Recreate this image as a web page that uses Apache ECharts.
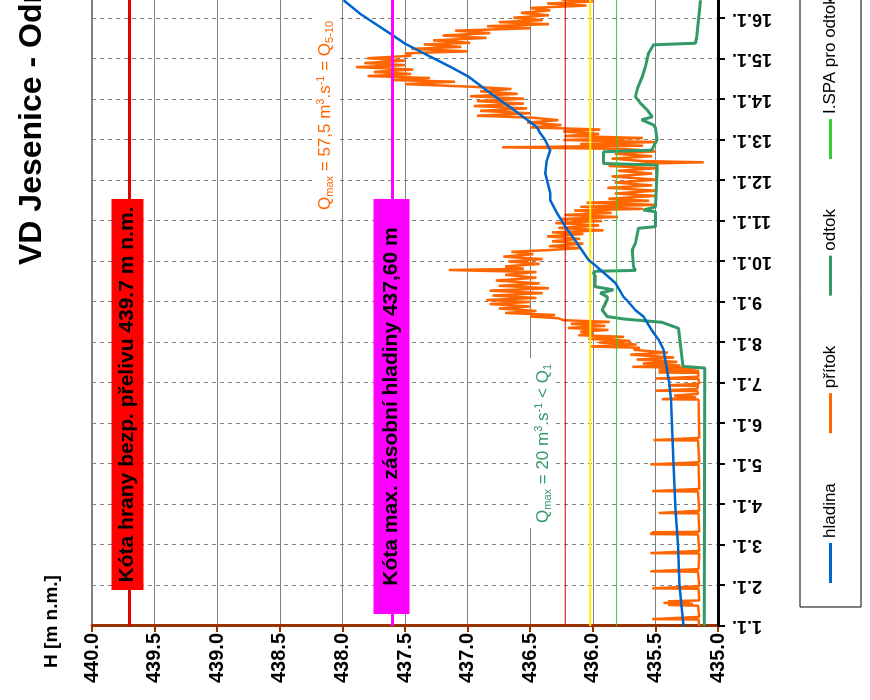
<!DOCTYPE html>
<html>
<head>
<meta charset="utf-8">
<script src="https://cdn.jsdelivr.net/npm/echarts@6/dist/echarts.min.js"></script>
<style>
html,body{margin:0;padding:0;width:870px;height:700px;overflow:hidden;background:#fff;}
#chart{position:absolute;left:0;top:0;width:800px;height:870px;transform-origin:0 0;transform:translateY(700px) rotate(-90deg);}
</style>
</head>
<body>
<div id="chart"></div>
<script>
const FONT = "'Liberation Sans', Arial, sans-serif";

// Date axis: day of January 2011 (1 = 1.1.)
const dayMin = 1, dayMax = 17;
// H axis [m n.m.]
const hMin = 435, hMax = 440, hStep = 0.5;
// Q axis (hidden) [m3/s]
const qMin = 0, qMax = 100;

// reference levels
const kotaPrelivu = 439.7;   // Kóta hrany bezp. přelivu
const kotaZasobni = 437.6;   // Kóta max. zásobní hladiny
const spa1 = 16.2, spa2 = 20.4, spa3 = 24.4; // SPA pro odtok [m3/s]

const legendNames = ['hladina', 'přítok', 'odtok', 'I.SPA pro odtok'];

// hladina [day, H]
const hladina = [
[1.0,435.275],[2.0,435.307],[3.0,435.32],[3.87,435.34],[5.0,435.355],[6.59,435.376],[7.0,435.39],
[7.82,435.435],[8.07,435.475],[8.31,435.53],[8.64,435.595],[8.8,435.66],[9.05,435.73],[9.13,435.755],
[9.47,435.82],[9.87,435.967],[10.04,436.034],[10.46,436.127],[10.86,436.22],[11.2,436.287],
[11.52,436.34],[11.69,436.34],[12.18,436.38],[12.5,436.367],[12.75,436.34],[13.0,436.38],
[13.17,436.42],[13.32,436.447],[13.81,436.66],[13.98,436.74],[14.23,436.85],[14.56,436.99],
[14.81,437.14],[15.14,437.35],[15.38,437.5],[15.63,437.62],[16.12,437.86],[16.45,437.99]
];

// přítok [day, Q]
const pritok = [
[1.00,3.0],[1.16,3.1],[1.17,10.5],[1.215,10.2],[1.225,3.0],
[1.50,3.2],[1.52,8.0],[1.55,4.0],[1.57,8.7],[1.59,4.5],[1.61,8.0],[1.63,3.0],
[1.92,3.1],[1.93,10.5],[1.975,10.2],[1.985,3.0],
[2.34,3.2],[2.35,10.8],[2.395,10.5],[2.405,3.1],
[2.79,3.0],[2.80,10.8],[2.845,10.5],[2.855,3.0],
[3.26,3.2],[3.27,10.8],[3.315,10.4],[3.325,3.0],
[3.78,3.1],[3.79,9.5],[3.835,9.2],[3.845,3.0],
[4.32,3.2],[4.33,10.5],[4.375,10.2],[4.385,3.0],
[4.98,3.1],[4.99,10.8],[5.035,10.5],[5.045,3.0],
[5.58,3.2],[5.59,10.3],[5.635,10.0],[5.645,3.0],
[6.59,3.1],[6.60,9.0],[6.635,8.8],[6.645,3.5],[6.68,3.5],[6.69,7.0],[6.72,6.8],[6.73,3.2],
[6.80,3.3],[6.81,10.0],[6.845,9.8],[6.855,3.3],[6.93,3.2],[6.94,8.0],[6.975,7.8],[6.985,3.0],
[7.10,3.1],[7.11,10.0],[7.145,9.8],[7.155,3.2],[7.25,3.1],[7.26,9.5],[7.29,9.3],[7.30,3.0],
[7.32,9.5],[7.35,9.3],[7.37,3.5],
[7.40,13.7],[7.43,6.0],[7.48,12.0],[7.52,6.5],[7.58,13.0],[7.63,7.0],[7.70,14.0],[7.75,8.0],
[7.82,13.5],[7.87,12.5],[7.90,20.5],[7.95,13.0],[8.00,19.0],[8.04,14.0],[8.09,20.7],[8.14,15.0],
[8.18,22.3],[8.22,20.0],[8.27,22.0],[8.31,17.5],[8.36,24.0],[8.41,18.0],[8.46,23.5],[8.51,17.3],
[8.55,24.7],[8.60,25.5],[8.64,30.0],[8.68,26.0],[8.73,34.0],[8.78,29.0],[8.84,35.0],[8.89,30.0],
[8.95,36.5],[9.00,30.0],[9.05,37.0],[9.10,29.0],[9.16,36.0],[9.22,28.0],[9.28,36.5],[9.34,27.0],
[9.40,35.0],[9.46,28.5],[9.53,35.5],[9.60,29.0],[9.67,34.0],[9.74,29.0],[9.79,43.0],[9.82,31.0],
[9.88,34.0],[9.94,28.5],[10.00,33.5],[10.06,28.0],[10.12,34.3],[10.18,29.5],[10.24,33.0],[10.28,27.3],
[10.33,22.0],[10.38,27.0],[10.44,21.5],[10.50,26.5],[10.56,22.0],[10.62,27.3],[10.68,21.5],[10.72,26.5],
[10.77,18.3],[10.83,25.5],[10.89,19.0],[10.95,26.0],[11.00,18.5],[11.05,25.2],[11.10,16.0],[11.15,24.5],
[11.20,17.0],[11.26,23.0],[11.30,12.0],[11.35,22.0],[11.40,10.0],[11.45,21.0],[11.50,11.0],[11.55,17.5],
[11.62,10.0],[11.68,16.5],[11.75,9.8],[11.82,17.7],[11.88,10.5],[11.95,16.5],[12.02,9.7],[12.10,17.0],
[12.17,10.5],[12.24,16.0],[12.30,10.0],[12.36,17.5],[12.42,11.0],[12.45,2.3],[12.48,12.0],[12.54,17.0],
[12.60,10.5],[12.66,16.5],[12.72,10.0],[12.78,15.0],[12.82,34.5],[12.86,12.0],[12.90,22.0],[12.95,10.0],
[13.00,24.7],[13.05,12.0],[13.10,24.5],[13.15,19.0],[13.21,24.7],[13.26,18.8],[13.31,30.0],[13.37,25.0],
[13.43,30.5],[13.49,25.5],[13.55,29.5],[13.60,38.5],[13.66,30.0],[13.72,38.0],[13.78,30.5],[13.84,39.0],
[13.90,31.0],[13.96,38.5],[14.02,31.0],[14.08,39.6],[14.14,32.0],[14.20,38.0],[14.26,33.0],[14.32,40.0],
[14.38,50.0],[14.44,42.0],[14.48,52.0],[14.53,46.0],[14.58,56.0],[14.63,49.0],[14.68,55.0],[14.74,48.7],
[14.80,57.8],[14.85,50.0],[14.90,56.5],[14.96,50.0],[15.02,56.0],[15.08,49.0],[15.14,50.0],[15.19,40.0],
[15.25,49.0],[15.30,41.0],[15.36,47.0],[15.40,39.6],[15.46,45.5],[15.52,37.0],[15.58,44.0],[15.64,36.4],
[15.70,42.0],[15.76,30.0],[15.81,36.9],[15.86,27.0],[15.91,35.0],[15.96,28.0],[16.02,32.7],[16.08,27.0],
[16.14,31.5],[16.20,26.8],[16.26,30.0],[16.32,21.0],[16.37,27.3],[16.42,20.0],[16.47,25.0]
];

// odtok [day, Q]
const odtok = [
[1.0,2.2],[7.37,2.1],[7.41,5.6],[8.35,6.3],[8.5,9.0],[8.58,15.0],[8.64,17.7],[8.8,18.5],[9.05,17.7],
[9.13,17.7],[9.22,18.8],[9.3,16.7],[9.38,19.7],[9.63,19.6],[9.72,19.9],[9.76,19.5],[9.78,13.2],
[9.87,13.5],[10.28,13.7],[10.45,13.2],[10.82,12.7],[10.86,10.0],[11.23,10.0],[11.27,11.9],[11.31,11.9],
[11.35,10.0],[12.33,9.7],[12.38,9.7],[12.42,18.3],[12.71,18.3],[12.75,10.6],[13.0,9.75],[13.3,10.0],
[13.37,10.3],[13.5,12.2],[13.57,10.5],[13.74,11.3],[13.91,12.4],[14.07,13.2],[14.3,12.8],[14.56,12.1],
[14.81,11.6],[15.14,11.1],[15.35,10.3],[15.39,3.6],[15.55,3.4],[16.45,2.8]
];

const chart = echarts.init(document.getElementById('chart'));

function level(v) { return [[dayMin, v], [dayMax, v]]; }

const option = {
  animation: false,
  backgroundColor: '#fff',
  textStyle: { fontFamily: FONT },
  title: {
    text: 'VD Jesenice - Odrava',
    left: 435, top: 16, padding: 0,
    textStyle: { fontSize: 32, fontWeight: 'bold', color: '#000', fontFamily: FONT }
  },
  legend: {
    data: legendNames.map(n => ({ name: n, icon: 'rect' })),
    left: 93, top: 800, width: 900,
    padding: [22, 24], itemGap: 50, itemWidth: 40, itemHeight: 3,
    borderColor: '#000', borderWidth: 1,
    textStyle: { fontSize: 17, color: '#000', fontFamily: FONT, lineHeight: 17 }
  },
  grid: {
    left: 74, right: 78, top: 92, bottom: 152,
    show: true, borderColor: '#000', borderWidth: 1
  },
  xAxis: {
    type: 'value', min: dayMin, max: dayMax, interval: 1,
    axisLine: { lineStyle: { color: '#000', width: 3 } },
    axisTick: { show: true, length: 7, lineStyle: { color: '#000', width: 2 } },
    axisLabel: {
      rotate: 90, margin: 14, fontSize: 18, fontWeight: 'bold', color: '#000', fontFamily: FONT,
      formatter: v => v + '.1.'
    },
    splitLine: { show: true, lineStyle: { color: '#808080', type: [4, 4], width: 1 } }
  },
  yAxis: [{
    type: 'value', min: hMin, max: hMax, interval: hStep, position: 'left',
    name: 'H [m n.m.]', nameLocation: 'end', nameGap: 31,
    nameTextStyle: { fontSize: 19, fontWeight: 'bold', color: '#000', fontFamily: FONT, padding: [0, 0, 0, 9] },
    axisLine: { show: true, lineStyle: { color: '#993300', width: 3 } },
    axisTick: { show: true, length: 6, lineStyle: { color: '#993300', width: 2 } },
    axisLabel: { margin: 7, fontSize: 20, fontWeight: 'bold', color: '#000', fontFamily: FONT, formatter: v => v.toFixed(1) },
    splitLine: { show: true, lineStyle: { color: '#808080', width: 1 } }
  }, {
    type: 'value', min: qMin, max: qMax, interval: 10, position: 'right', show: false,
    splitLine: { show: false }
  }],
  series: [
    { name: 'přítok', type: 'line', yAxisIndex: 1, data: pritok, symbol: 'none', z: 2,
      itemStyle: { color: '#ff6600' }, lineStyle: { color: '#ff6600', width: 2.5 } },
    { name: 'odtok', type: 'line', yAxisIndex: 1, data: odtok, symbol: 'none', z: 3,
      itemStyle: { color: '#339966' }, lineStyle: { color: '#339966', width: 3 } },
    { name: 'I.SPA pro odtok', type: 'line', yAxisIndex: 1, data: level(spa1), symbol: 'none', z: 4,
      itemStyle: { color: '#33cc33' }, lineStyle: { color: '#33cc33', width: 1 } },
    { name: 'II.SPA pro odtok', type: 'line', yAxisIndex: 1, data: level(spa2), symbol: 'none', z: 4,
      itemStyle: { color: '#ffee00' }, lineStyle: { color: '#ffee00', width: 2 } },
    { name: 'III.SPA pro odtok', type: 'line', yAxisIndex: 1, data: level(spa3), symbol: 'none', z: 4,
      itemStyle: { color: '#cc0000' }, lineStyle: { color: '#cc0000', width: 1 } },
    { name: 'hladina', type: 'line', yAxisIndex: 0, data: hladina, symbol: 'none', z: 5,
      itemStyle: { color: '#0066cc' }, lineStyle: { color: '#0066cc', width: 2.5 } },
    { name: 'Kóta přelivu', type: 'line', yAxisIndex: 0, data: level(kotaPrelivu), symbol: 'none', z: 6,
      lineStyle: { color: '#e00000', width: 3 } },
    { name: 'Kóta zásobní', type: 'line', yAxisIndex: 0, data: level(kotaZasobni), symbol: 'none', z: 6,
      lineStyle: { color: '#ff00ff', width: 3 } }
  ]
};

chart.setOption(option);

const yRed = chart.convertToPixel({ yAxisIndex: 0 }, kotaPrelivu);
const yMag = chart.convertToPixel({ yAxisIndex: 0 }, kotaZasobni);

function qRich(color) {
  return {
    n: { fontSize: 17, fontFamily: FONT, fill: color, lineHeight: 20 },
    sub: { fontSize: 11, fontFamily: FONT, fill: color, lineHeight: 12, verticalAlign: 'bottom' },
    sup: { fontSize: 11, fontFamily: FONT, fill: color, lineHeight: 12, verticalAlign: 'top' }
  };
}

chart.setOption({
  graphic: [
    { type: 'rect', z: 100, shape: { x: 110, y: yRed - 18, width: 391, height: 32 }, style: { fill: '#ff0000' } },
    { type: 'text', z: 101, x: 305.5, y: yRed - 2,
      style: { text: 'Kóta hrany bezp. přelivu 439.7 m n.m.', fontSize: 21, fontWeight: 'bold', fontFamily: FONT,
               fill: '#000', align: 'center', verticalAlign: 'middle' } },
    { type: 'rect', z: 100, shape: { x: 86, y: yMag - 19, width: 415, height: 36 }, style: { fill: '#ff00ff' } },
    { type: 'text', z: 101, x: 293.5, y: yMag - 1,
      style: { text: 'Kóta max. zásobní hladiny 437,60 m', fontSize: 21, fontWeight: 'bold', fontFamily: FONT,
               fill: '#000', align: 'center', verticalAlign: 'middle' } },
    { type: 'text', z: 101, x: 487, y: 325,
      style: { text: '{n|Q}{sub|max}{n| = 57,5 m}{sup|3}{n|.s}{sup|-1}{n| = Q}{sub|5-10}',
               rich: qRich('#ff6600'), align: 'left', verticalAlign: 'middle',
               backgroundColor: '#fff', padding: [2, 3, 2, 3] } },
    { type: 'text', z: 101, x: 172, y: 542,
      style: { text: '{n|Q}{sub|max}{n| = 20 m}{sup|3}{n|.s}{sup|-1}{n| < Q}{sub|1}',
               rich: qRich('#339966'), align: 'left', verticalAlign: 'middle',
               backgroundColor: '#fff', padding: [4, 6, 2, 5] } }
  ]
});
</script>
</body>
</html>
